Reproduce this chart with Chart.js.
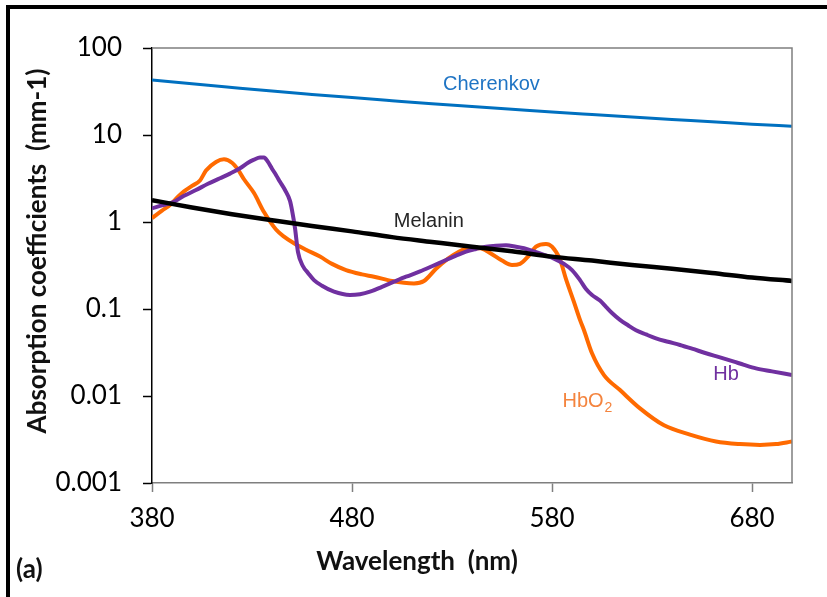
<!DOCTYPE html>
<html><head><meta charset="utf-8">
<script src="https://cdn.jsdelivr.net/npm/chart.js@4/dist/chart.umd.min.js"></script>
<style>
html,body{margin:0;padding:0;background:#fff;}
#wrap{position:relative;width:827px;height:597px;overflow:hidden;background:#fff;}
#frame{position:absolute;left:6px;top:5px;width:900px;height:700px;border-top:4px solid #000;border-left:4px solid #000;}
#c{position:absolute;left:0;top:0;}
</style></head>
<body>
<div id="wrap"><div id="frame"></div><canvas id="c" width="827" height="597"></canvas></div>
<script>
// ---- data ----
const xTicks = [380, 480, 580, 680];
const yTicks = [0.001, 0.01, 0.1, 1, 10, 100];
const yTickLabels = ['0.001', '0.01', '0.1', '1', '10', '100'];

const cherenkovWl  = [380,400,420,440,460,480,500,520,540,560,580,600,620,640,660,680,700];
const cherenkovVal = [43,38.8,35.2,32,29.3,26.9,24.8,22.9,21.3,19.8,18.4,17.2,16.1,15.1,14.2,13.3,12.6];

const melaninWl  = [380,400,420,440,460,480,500,520,540,560,580,600,620,640,660,680,700];
const melaninVal = [1.78,1.47,1.23,1.05,0.90,0.78,0.67,0.59,0.52,0.46,0.40,0.36,0.32,0.29,0.26,0.23,0.21];

const hbWl  = [380,385,391,396,402,408,414,419,424,428,431,434,436,438,440,442,444,446.5,449,450,451.5,453,455.5,458,461,465,471,479,484,489,495,501,507,514,520,527,532,537,542,547,552,557,562,566,571,576,581,586,590,594,597,600,604,607,610,614,618,622,627,632,638,644,650,657,664,671,676,682,690,700];
const hbVal = [1.44,1.55,1.71,2.0,2.33,2.75,3.18,3.6,4.14,4.8,5.2,5.5,5.5,4.9,4.1,3.47,2.9,2.33,1.75,1.37,0.85,0.45,0.31,0.26,0.215,0.185,0.158,0.145,0.148,0.158,0.18,0.206,0.235,0.27,0.31,0.366,0.41,0.456,0.49,0.52,0.535,0.54,0.52,0.50,0.46,0.42,0.38,0.33,0.28,0.215,0.17,0.145,0.125,0.106,0.09,0.075,0.065,0.057,0.051,0.046,0.042,0.0386,0.035,0.031,0.0278,0.0248,0.0228,0.0208,0.0192,0.0174];

const hbo2Wl  = [380,385,389,393,396,400,404,407,412,416,420,423,426,431,436,442,446,451,457,464,470,477,485,491,500,506,511,516,522,528,533,538,544,549,555,560,564,568,572,577,580,584,587,591,594,596,600,606,614,624,636,649,662,674,684,692,700];
const hbo2Val = [1.11,1.35,1.57,1.95,2.25,2.6,3.0,3.9,4.9,5.25,4.8,4.0,3.1,2.15,1.3,0.82,0.68,0.57,0.48,0.40,0.33,0.28,0.25,0.235,0.21,0.20,0.197,0.21,0.29,0.38,0.45,0.50,0.50,0.44,0.36,0.32,0.33,0.40,0.52,0.56,0.52,0.37,0.22,0.12,0.075,0.057,0.031,0.0174,0.0117,0.0072,0.0046,0.0036,0.0030,0.0028,0.00274,0.0028,0.0030];

// ---- annotations (text placed in data units) ----
const seriesLabels = [
  {text: 'Cherenkov', wl: 549.7, val: 37.6, color: '#1F74C4'},
  {text: 'Melanin',   wl: 518.4, val: 1.01, color: '#262626'},
  {text: 'Hb',        wl: 667,   val: 0.0179, color: '#7030A0'},
  {text: 'HbO', sub: '2', wl: 595.5, val: 0.0086, color: '#F4843E'}
];

const toXY = (wl, v) => wl.map((w, i) => ({x: w, y: v[i]}));

const textPlugin = {
  id: 'texts',
  afterDatasetsDraw(chart) {
    const {ctx, chartArea: a, scales: {x, y}} = chart;
    ctx.save();
    // plot-area frame (top + right)
    ctx.strokeStyle = '#7f7f7f'; ctx.lineWidth = 1.5;
    ctx.beginPath();
    ctx.moveTo(a.left, a.top); ctx.lineTo(a.right, a.top); ctx.lineTo(a.right, a.bottom);
    ctx.stroke();
    // series labels
    ctx.textBaseline = 'middle';
    seriesLabels.forEach(l => {
      const px = x.getPixelForValue(l.wl), py = y.getPixelForValue(l.val);
      ctx.fillStyle = l.color;
      ctx.font = '20px "Liberation Sans", Arial, sans-serif';
      if (l.sub) {
        const w = ctx.measureText(l.text).width;
        ctx.textAlign = 'left';
        ctx.fillText(l.text, px - w / 2, py);
        ctx.font = '14px "Liberation Sans", Arial, sans-serif';
        ctx.fillText(l.sub, px + w / 2 + 1, py + 6);
      } else {
        ctx.textAlign = 'center';
        ctx.fillText(l.text, px, py);
      }
    });
    // axis titles
    ctx.fillStyle = '#111';
    ctx.font = 'bold 26px Lato, sans-serif';
    ctx.textAlign = 'center'; ctx.textBaseline = 'middle';
    ctx.fillText('Wavelength  (nm)', 417, 562);
    ctx.save();
    ctx.translate(38, 251); ctx.rotate(-Math.PI / 2);
    ctx.fillText('Absorption coefficients  (mm-1)', 0, 0);
    ctx.restore();
    ctx.textAlign = 'left';
    ctx.fillText('(a)', 16, 570);
    ctx.restore();
  }
};

new Chart(document.getElementById('c'), {
  type: 'line',
  data: {
    datasets: [
      {label: 'Cherenkov', data: toXY(cherenkovWl, cherenkovVal), borderColor: '#0070C0', borderWidth: 3},
      {label: 'Melanin', data: toXY(melaninWl, melaninVal), borderColor: '#000000', borderWidth: 4.5},
      {label: 'Hb', data: toXY(hbWl, hbVal), borderColor: '#7030A0', borderWidth: 4},
      {label: 'HbO2', data: toXY(hbo2Wl, hbo2Val), borderColor: '#FF6A00', borderWidth: 4}
    ]
  },
  options: {
    responsive: false,
    animation: false,
    devicePixelRatio: 1,
    layout: {padding: {left: 0, right: 35, top: 48, bottom: 0}},
    elements: {point: {radius: 0}, line: {cubicInterpolationMode: 'monotone', fill: false}},
    plugins: {legend: {display: false}, tooltip: {enabled: false}},
    scales: {
      x: {
        type: 'linear', min: 380, max: 700,
        afterBuildTicks: s => { s.ticks = xTicks.map(v => ({value: v})); },
        afterFit: s => { s.height = 114; },
        grid: {drawOnChartArea: false, drawTicks: true, tickLength: 9, tickColor: '#7f7f7f', tickWidth: 1.5},
        border: {display: true, color: '#7f7f7f', width: 1.5},
        ticks: {font: {family: 'Lato', size: 26}, color: '#000', padding: 11, maxRotation: 0}
      },
      y: {
        type: 'logarithmic', min: 0.001, max: 100,
        afterBuildTicks: s => { s.ticks = yTicks.map(v => ({value: v})); },
        afterFit: s => { s.width = 152; },
        grid: {drawOnChartArea: false, drawTicks: true, tickLength: 9, tickColor: '#000', tickWidth: 1.5},
        border: {display: true, color: '#000', width: 1.5},
        ticks: {font: {family: 'Lato', size: 26}, color: '#000', padding: 21,
                callback: (v, i) => yTickLabels[i]}
      }
    }
  },
  plugins: [textPlugin]
});
</script>
</body></html>
